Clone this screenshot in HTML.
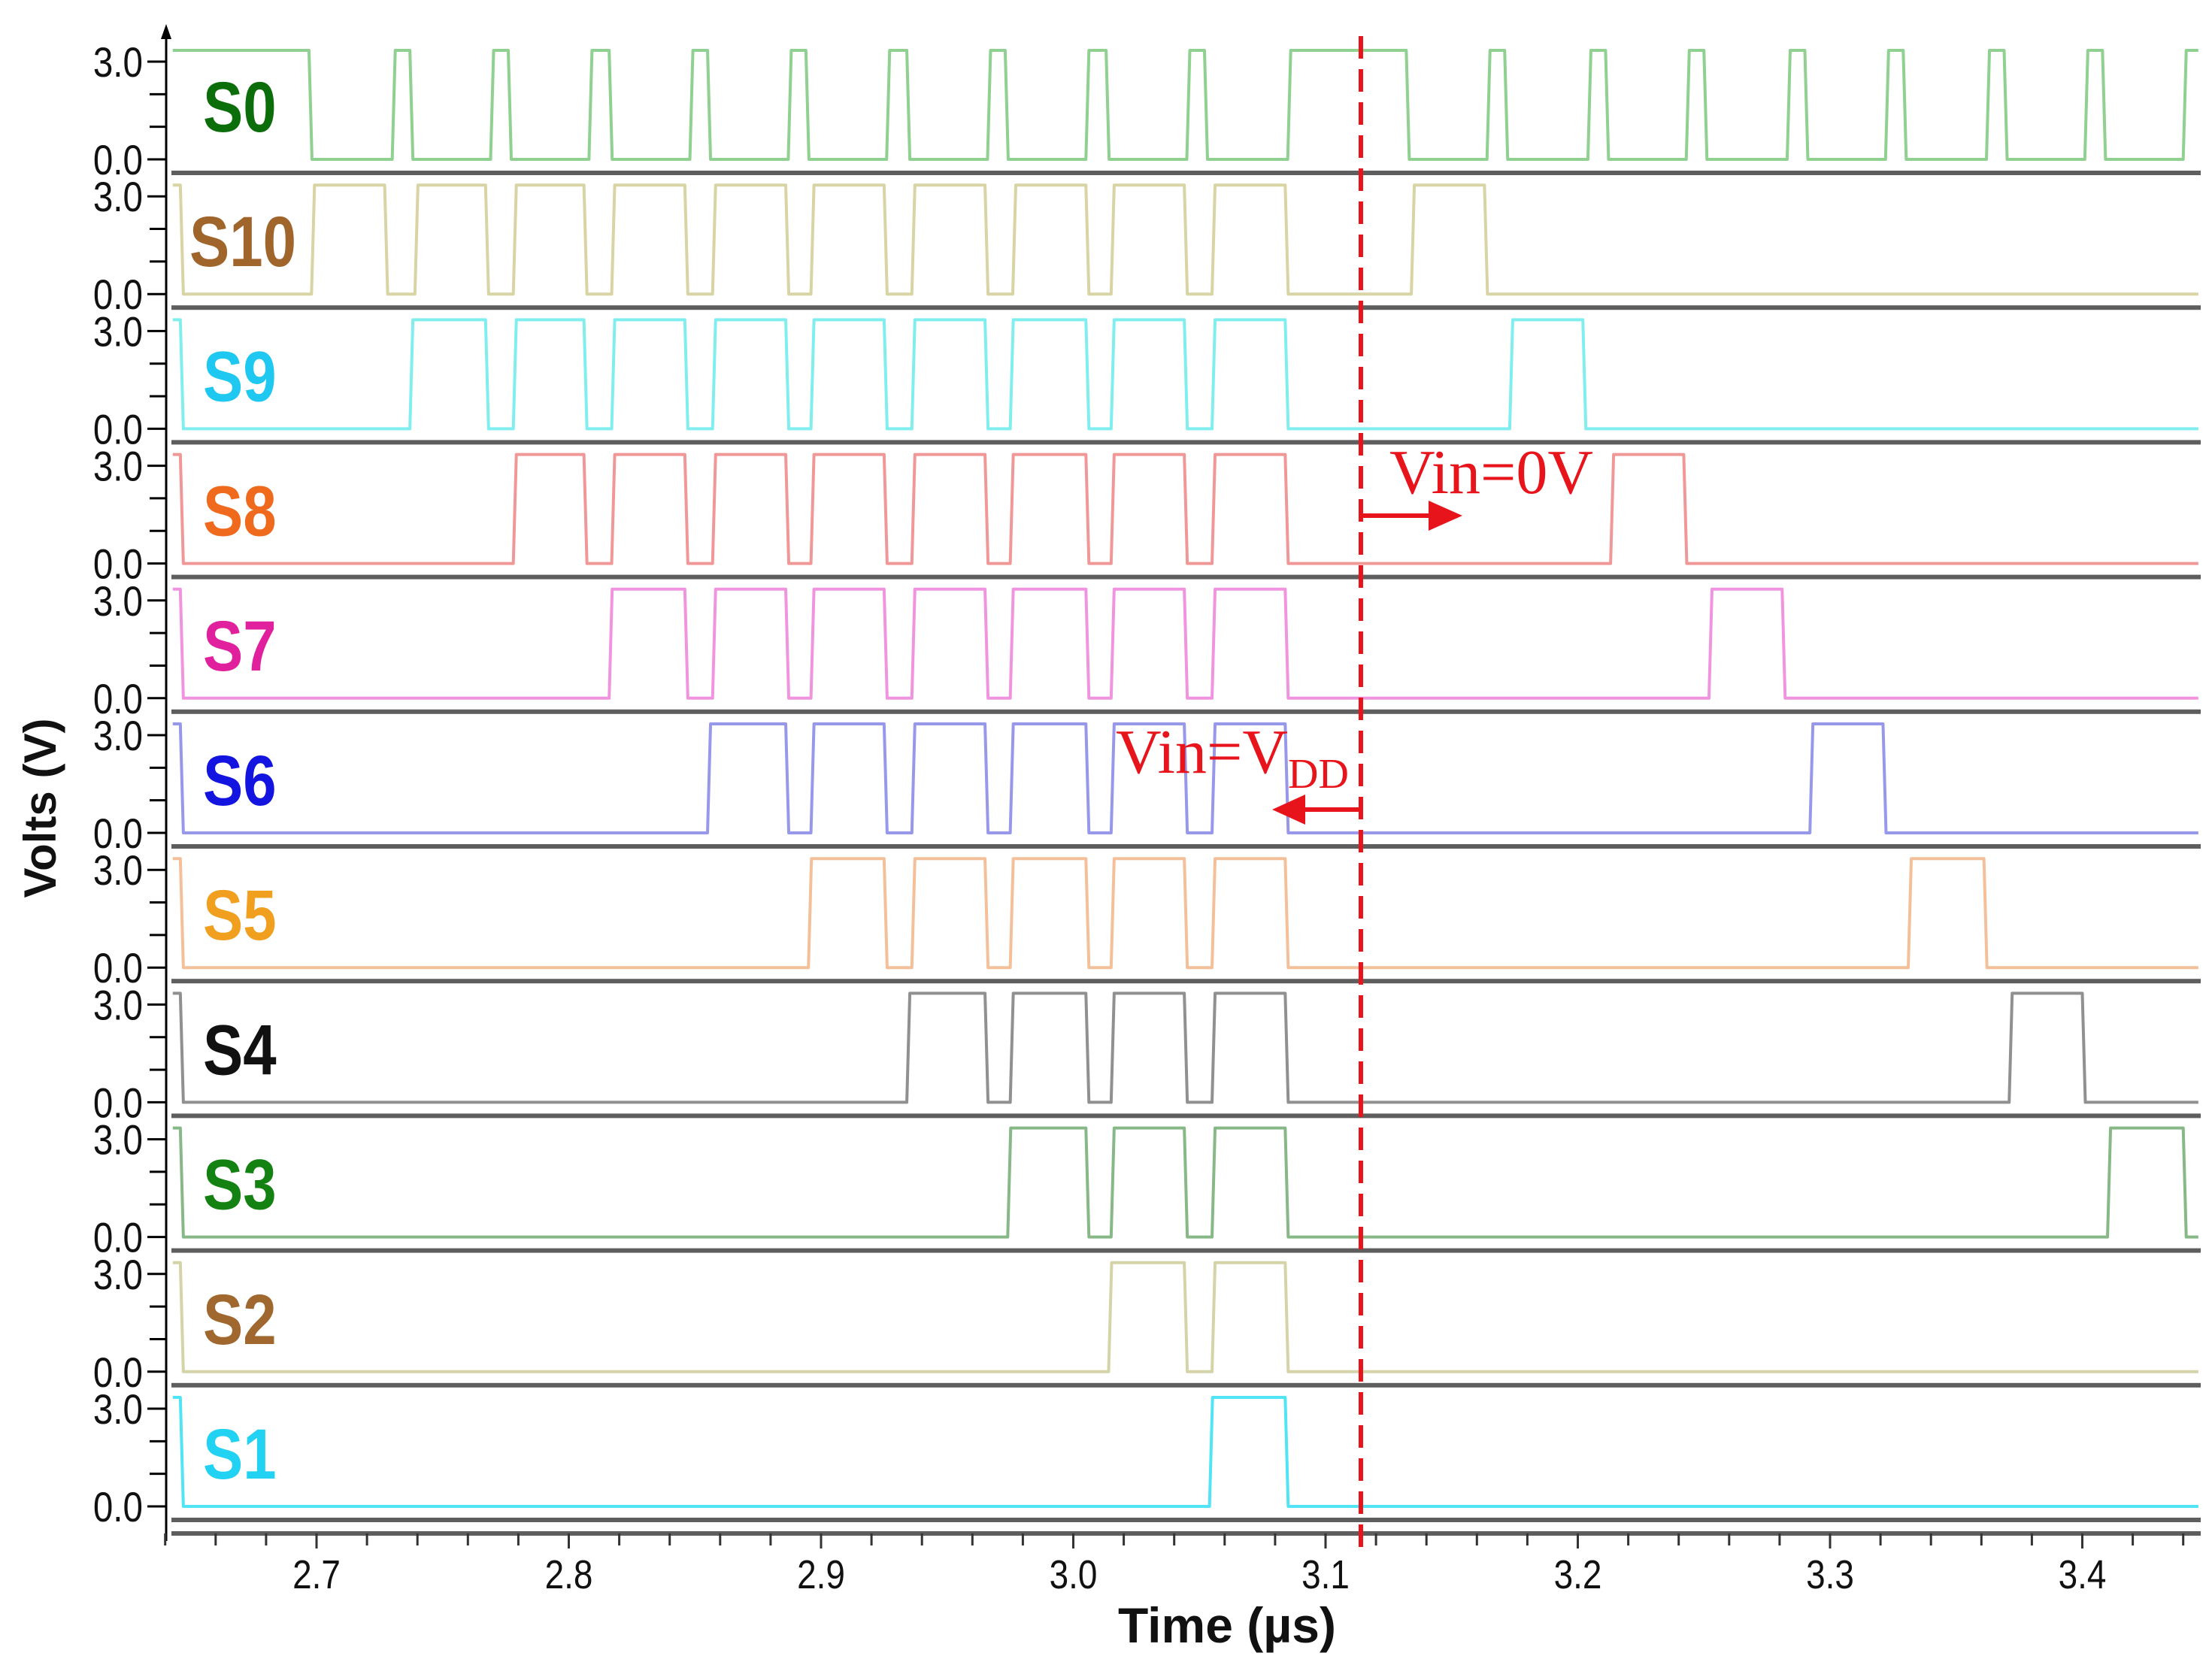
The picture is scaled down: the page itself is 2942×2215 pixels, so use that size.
<!DOCTYPE html>
<html><head><meta charset="utf-8"><style>
html,body{margin:0;padding:0;background:#fff;}
svg{display:block;}
</style></head><body>
<svg id="chart" width="2942" height="2215" viewBox="0 0 2942 2215" xmlns="http://www.w3.org/2000/svg">
<g id="panels"></g>
<g id="xaxis"></g>
<g id="annot"></g>
</svg>
<script>
// ---- data ----
const signalNames = ["S0","S10","S9","S8","S7","S6","S5","S4","S3","S2","S1"];
const labelColors = ["#0b6e0b","#a0652a","#1ec8f0","#f06a1e","#e0209c","#1414e0","#f0a01e","#111111","#138213","#a0682e","#22d2f2"];
const traceColors = ["#90d090","#d8d4a4","#80eeee","#f09898","#f094e0","#9898ea","#f4c09a","#909090","#88b888","#d4d4a8","#50e4f4"];
const startHigh = [true,true,true,true,true,true,true,true,true,true,true];
// high intervals [rise, fall] in µs
const highS0 = [[2.643,2.697],[2.730,2.737],[2.769,2.776],[2.808,2.816],[2.848,2.855],[2.887,2.894],[2.926,2.934],[2.966,2.973],[3.005,3.013],[3.045,3.052],[3.085,3.132],[3.164,3.171],[3.204,3.211],[3.243,3.250],[3.283,3.290],[3.322,3.329],[3.362,3.369],[3.401,3.408],[3.440,3.447]];
const highS10 = [[2.698,2.727],[2.739,2.767],[2.778,2.806],[2.817,2.846],[2.857,2.886],[2.896,2.925],[2.936,2.965],[2.976,3.005],[3.015,3.044],[3.055,3.084],[3.134,3.163]];
const highS9 = [[2.737,2.767],[2.778,2.806],[2.817,2.846],[2.857,2.886],[2.896,2.925],[2.936,2.965],[2.975,3.005],[3.015,3.044],[3.055,3.084],[3.173,3.202]];
const highS8 = [[2.778,2.806],[2.817,2.846],[2.857,2.886],[2.896,2.925],[2.936,2.965],[2.975,3.005],[3.015,3.044],[3.055,3.084],[3.213,3.242]];
const highS7 = [[2.816,2.846],[2.857,2.886],[2.896,2.925],[2.936,2.965],[2.975,3.005],[3.015,3.044],[3.055,3.084],[3.252,3.281]];
const highS6 = [[2.855,2.886],[2.896,2.925],[2.936,2.965],[2.975,3.005],[3.015,3.044],[3.055,3.084],[3.292,3.321]];
const highS5 = [[2.895,2.925],[2.936,2.965],[2.975,3.005],[3.015,3.044],[3.055,3.084],[3.331,3.361]];
const highS4 = [[2.934,2.965],[2.975,3.005],[3.015,3.044],[3.055,3.084],[3.371,3.400]];
const highS3 = [[2.974,3.005],[3.015,3.044],[3.055,3.084],[3.410,3.440]];
const highS2 = [[3.014,3.044],[3.055,3.084]];
const highS1 = [[3.054,3.084]];
const highIntervals = [highS0,highS10,highS9,highS8,highS7,highS6,highS5,highS4,highS3,highS2,highS1];
const xTickValues = [2.7,2.8,2.9,3.0,3.1,3.2,3.3,3.4];
const xTickLabels = ["2.7","2.8","2.9","3.0","3.1","3.2","3.3","3.4"];
const yTickLabels = ["3.0","0.0"];
const vinTime = 3.114;

// ---- scales ----
const T0 = 2.643, T1 = 3.446;
const X0 = 421, PX_PER_US = 3355;
function xs(t){ return X0 + (t-2.7)*PX_PER_US; }
const SEP0 = 230, PITCH = 179.2;
function sepY(i){ return SEP0 + PITCH*i; }
function vy(i, v){ const hi = sepY(i)-163, lo = sepY(i)-18; return lo + (hi-lo)*(v/3.4); }
function tickY(i, v){ const y3 = sepY(i)-148, y0 = sepY(i)-18; return y0 + (y3-y0)*(v/3); }

const NS = "http://www.w3.org/2000/svg";
function mk(tag, attrs, parent){ const e=document.createElementNS(NS,tag); for(const k in attrs) e.setAttribute(k,attrs[k]); parent.appendChild(e); return e; }

const panels = document.getElementById('panels');
const AXX = 221, RIGHT = 2927;

const yAxis = mk('line',{x1:AXX,y1:45,x2:AXX,y2:2050,stroke:'#000','stroke-width':3},panels);


const arrow = mk('polygon',{points:`${AXX-7},52 ${AXX+7},52 ${AXX},32`,fill:'#000'},panels);



const ytitle = mk('text',{x:0,y:0,transform:'translate(74,1075) rotate(-90)','text-anchor':'middle','font-family':'Liberation Sans, sans-serif','font-weight':'bold','font-size':60,fill:'#111'},panels);
ytitle.textContent = 'Volts (V)';



signalNames.forEach((name,i)=>{
  const g = mk('g',{},panels);
  
  
  const sep = mk('rect',{x:228,y:sepY(i)-3,width:RIGHT-228,height:6,fill:'#5e5e5e'},g);
  
  
  [0,1,2,3].forEach(v=>{
    const major = (v===0||v===3);
    const t = mk('line',{x1:major?196:199,x2:AXX,y1:tickY(i,v),y2:tickY(i,v),stroke:'#000','stroke-width':3},g);
    
    
  });
  [3,0].forEach((v,k)=>{
    const tl = mk('text',{x:0,y:0,transform:`translate(190,${tickY(i,v)+20}) scale(0.85,1)`,'text-anchor':'end','font-family':'Liberation Sans, sans-serif','font-size':56,fill:'#111'},g);
    tl.textContent = yTickLabels[k];
    
    
  });
  const iv = highIntervals[i];
  const R = 0.0012;
  let d = '';
  let started = false;
  let curT = T0;
  const lo = vy(i,0), hi = vy(i,3.4);
  if(startHigh[i] && !(iv.length && iv[0][0]<=T0+0.001)){
    d += `M${xs(T0)},${hi} L${xs(T0+0.003)},${hi} L${xs(T0+0.003+R)},${lo}`;
    started = true; curT = T0+0.003+R;
  }
  iv.forEach(p=>{
    const r = Math.max(p[0],T0), f = Math.min(p[1],T1);
    if(!started){
      if(r<=T0+0.001){ d += `M${xs(T0)},${hi}`; }
      else { d += `M${xs(T0)},${lo} L${xs(r)},${lo} L${xs(r+R)},${hi}`; }
      started = true;
    } else {
      d += ` L${xs(r)},${lo} L${xs(Math.min(r+R,T1))},${hi}`;
    }
    if(p[1] < T1){ d += ` L${xs(f)},${hi} L${xs(f+R)},${lo}`; curT = f+R; }
    else { d += ` L${xs(T1)},${hi}`; curT = T1; }
  });
  if(curT < T1) d += ` L${xs(T1)},${lo}`;
  const path = mk('path',{d:d,fill:'none',stroke:traceColors[i],'stroke-width':4,'stroke-linejoin':'round'},g);
  
  
  const lx = name.length===3 ? 252 : 270;
  const lab = mk('text',{x:0,y:0,transform:`translate(${lx},${sepY(i)-55}) scale(0.84,1)`,'font-family':'Liberation Sans, sans-serif','font-weight':'bold','font-size':95,fill:labelColors[i]},g);
  lab.textContent = name;
  
  
});

const xa = document.getElementById('xaxis');
const axLine = mk('rect',{x:228,y:2037,width:RIGHT-228,height:6,fill:'#5e5e5e'},xa);


for(let k=0;;k++){
  const t = 2.64 + k*0.02;
  if(t > T1+0.0001) break;
  const major = Math.abs((t*10)-Math.round(t*10))<0.001;
  const tk = mk('line',{x1:xs(t),x2:xs(t),y1:2040,y2:major?2060:2056,stroke:'#333','stroke-width':3},xa);
  
  
}
xTickValues.forEach((v,k)=>{
  const tl = mk('text',{x:0,y:0,transform:`translate(${xs(v)},2113) scale(0.85,1)`,'text-anchor':'middle','font-family':'Liberation Sans, sans-serif','font-size':54,fill:'#111'},xa);
  tl.textContent = xTickLabels[k];
  
  
});
const xt = mk('text',{x:1632,y:2185,'text-anchor':'middle','font-family':'Liberation Sans, sans-serif','font-weight':'bold','font-size':66,fill:'#111'},xa);
xt.textContent = 'Time (µs)';



const an = document.getElementById('annot');
const vx = xs(vinTime);
const vline = mk('line',{x1:vx,x2:vx,y1:48,y2:2058,stroke:'#e8141c','stroke-width':6,'stroke-dasharray':'30 14'},an);


const t1 = mk('text',{x:1848,y:656,'font-family':'Liberation Serif, serif','font-size':84,fill:'#e8141c'},an);
t1.textContent = 'Vin=0V';


const a1 = mk('line',{x1:vx,x2:1905,y1:686,y2:686,stroke:'#e8141c','stroke-width':6},an);


const h1 = mk('polygon',{points:'1900,666 1945,686 1900,706',fill:'#e8141c'},an);


const t2 = mk('text',{x:1484,y:1028,'font-family':'Liberation Serif, serif','font-size':84,fill:'#e8141c'},an);
t2.innerHTML = 'Vin=V<tspan font-size="56" dy="20">DD</tspan>';


const a2 = mk('line',{x1:vx,x2:1730,y1:1077,y2:1077,stroke:'#e8141c','stroke-width':6},an);


const h2 = mk('polygon',{points:'1736,1057 1692,1077 1736,1097',fill:'#e8141c'},an);


</script>
</body></html>
